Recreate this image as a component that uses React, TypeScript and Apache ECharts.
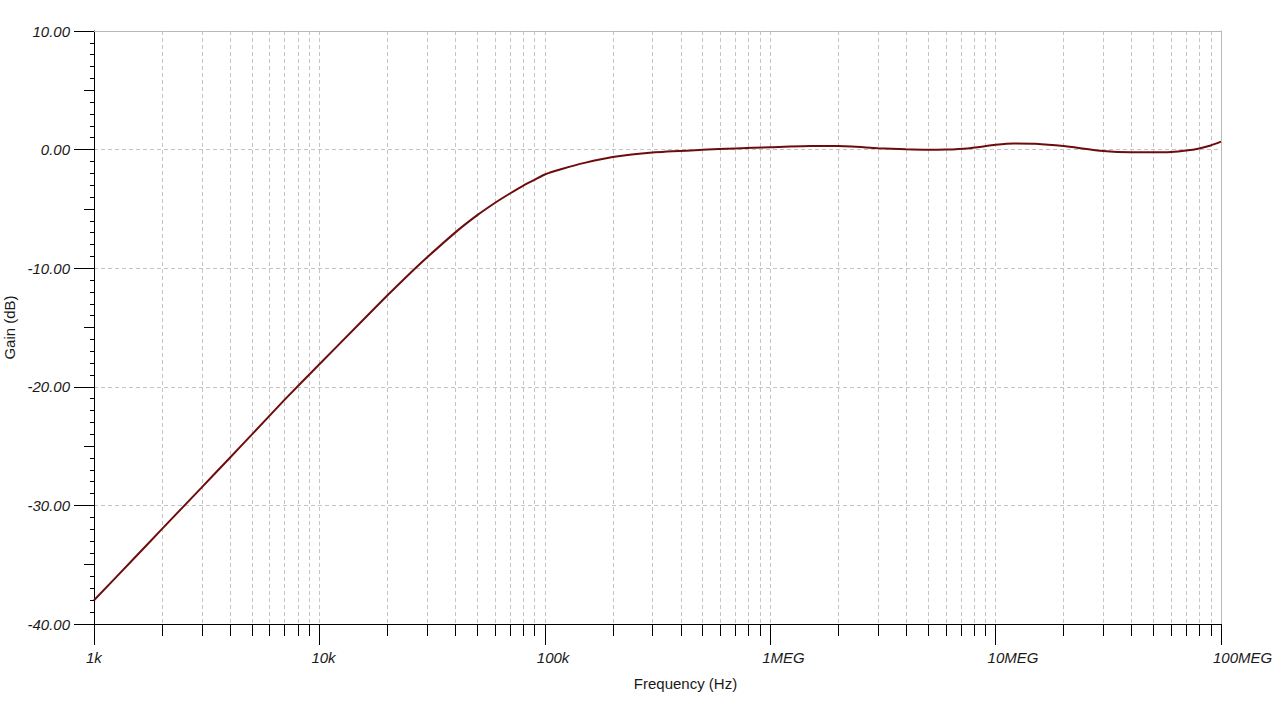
import React, { useEffect, useRef } from "react";
import * as echarts from "echarts";

// Frequency (Hz) and gain (dB)
const freqs: number[] = [
  1000, 1500, 2000, 3000, 4000, 5000, 7000, 10000, 15000, 20000, 26000, 30000,
  40000, 50000, 60000, 70000, 80000, 90000, 100000, 120000, 150000, 200000,
  300000, 500000, 700000, 1e6, 1.5e6, 2e6, 3e6, 4e6, 5e6, 6e6, 7.5e6, 1e7,
  1.2e7, 1.5e7, 2e7, 3e7, 4e7, 5e7, 6e7, 7e7, 8e7, 9e7, 1e8,
];
const gains: number[] = [
  -38.0, -34.5, -32.0, -28.5, -26.0, -24.05, -21.1, -18.1, -14.7, -12.3, -10.2,
  -9.1, -7.0, -5.55, -4.5, -3.7, -3.05, -2.55, -2.1, -1.62, -1.12, -0.62, -0.24,
  -0.02, 0.1, 0.2, 0.3, 0.3, 0.12, 0.02, -0.02, 0.0, 0.1, 0.4, 0.52, 0.5, 0.3,
  -0.12, -0.23, -0.23, -0.2, -0.08, 0.1, 0.35, 0.67,
];

// Axis tick labels
const decadeLabels: Record<string, string> = {
  "1000": "1k",
  "10000": "10k",
  "100000": "100k",
  "1000000": "1MEG",
  "10000000": "10MEG",
  "100000000": "100MEG",
};
const decades: number[] = [1000, 10000, 100000, 1e6, 1e7];
const minorMultipliers: number[] = [2, 3, 4, 5, 6, 7, 8, 9];

const FONT = 'Arial, "Liberation Sans", sans-serif';

export default function App() {
  const ref = useRef<HTMLDivElement>(null);

  useEffect(() => {
    if (!ref.current) return;
    const chart = echarts.init(ref.current, undefined, { renderer: "svg" });

    const minorTicks: number[][] = [];
    decades.forEach((d) =>
      minorMultipliers.forEach((m) => minorTicks.push([d * m, -40]))
    );

    const lineData = freqs.map((f, i) => [f, gains[i]]);

    chart.setOption({
      animation: false,
      backgroundColor: "#ffffff",
      grid: {
        left: 94,
        top: 31,
        right: 57,
        bottom: 78,
        containLabel: false,
        outerBoundsMode: "none",
      },
      xAxis: [
        {
          type: "log",
          logBase: 10,
          min: 1000,
          max: 1e8,
          position: "bottom",
          name: "Frequency (Hz)",
          nameLocation: "middle",
          nameGap: 52,
          nameTextStyle: {
            fontFamily: FONT,
            fontSize: 15,
            color: "#1a1a1a",
            padding: [0, 0, 0, 56],
          },
          axisLine: {
            show: true,
            onZero: false,
            lineStyle: { color: "#000", width: 1 },
          },
          axisTick: { show: true, length: 21, lineStyle: { color: "#000" } },
          axisLabel: {
            formatter: (v: number) => decadeLabels[String(Math.round(v))] || "",
            fontFamily: FONT,
            fontSize: 15,
            fontStyle: "italic",
            color: "#1a1a1a",
            margin: 26,
            align: "left",
            padding: [0, 0, 0, -8],
            showMinLabel: true,
            showMaxLabel: true,
          },
          splitLine: {
            show: true,
            lineStyle: { color: "#c4c4c4", type: [4, 3], width: 1 },
          },
        },
        {
          type: "log",
          logBase: 10,
          min: 1000,
          max: 1e8,
          position: "top",
          axisLine: {
            show: true,
            onZero: false,
            lineStyle: { color: "#b8b8b8", width: 1 },
          },
          axisTick: { show: false },
          axisLabel: { show: false },
          splitLine: { show: false },
        },
      ],
      yAxis: [
        {
          type: "value",
          min: -40,
          max: 10,
          interval: 10,
          position: "left",
          name: "Gain (dB)",
          nameLocation: "middle",
          nameGap: 62,
          nameTextStyle: { fontFamily: FONT, fontSize: 15, color: "#1a1a1a" },
          axisLine: {
            show: true,
            onZero: false,
            lineStyle: { color: "#000", width: 1 },
          },
          axisTick: { show: true, length: 20, lineStyle: { color: "#000" } },
          minorTick: {
            show: true,
            splitNumber: 10,
            length: 4,
            lineStyle: { color: "#000", width: 1 },
          },
          axisLabel: {
            formatter: (v: number) => v.toFixed(2),
            fontFamily: FONT,
            fontSize: 15,
            fontStyle: "italic",
            color: "#1a1a1a",
            margin: 24,
          },
          splitLine: {
            show: true,
            lineStyle: { color: "#c4c4c4", type: [4, 3], width: 1 },
          },
        },
        {
          type: "value",
          min: -40,
          max: 10,
          interval: 5,
          position: "left",
          axisLine: { show: false, onZero: false },
          axisTick: { show: true, length: 10, lineStyle: { color: "#000" } },
          axisLabel: { show: false },
          splitLine: { show: false },
        },
        {
          type: "value",
          min: -40,
          max: 10,
          interval: 10,
          position: "right",
          axisLine: {
            show: true,
            onZero: false,
            lineStyle: { color: "#b8b8b8", width: 1 },
          },
          axisTick: { show: false },
          axisLabel: { show: false },
          splitLine: { show: false },
        },
      ],
      series: [
        {
          type: "custom",
          xAxisIndex: 0,
          yAxisIndex: 0,
          silent: true,
          clip: false,
          data: minorTicks,
          renderItem: (params: any, api: any) => {
            const f = api.value(0);
            const top = api.coord([f, 10]);
            const bot = api.coord([f, -40]);
            const x = Math.round(bot[0]) + 0.5;
            return {
              type: "group",
              children: [
                {
                  type: "line",
                  shape: { x1: x, y1: top[1], x2: x, y2: bot[1] },
                  style: { stroke: "#c4c4c4", lineWidth: 1, lineDash: [4, 3] },
                },
                {
                  type: "line",
                  shape: { x1: x, y1: bot[1], x2: x, y2: bot[1] + 12 },
                  style: { stroke: "#000", lineWidth: 1 },
                },
              ],
            };
          },
          z: 1,
        },
        {
          type: "line",
          xAxisIndex: 0,
          yAxisIndex: 0,
          data: lineData,
          showSymbol: false,
          smooth: 0.2,
          lineStyle: { color: "#6e0c0c", width: 2 },
          z: 5,
        },
      ],
    });

    return () => chart.dispose();
  }, []);

  return (
    <div
      ref={ref}
      style={{ position: "fixed", left: 0, top: 0, width: 1278, height: 702 }}
    />
  );
}
